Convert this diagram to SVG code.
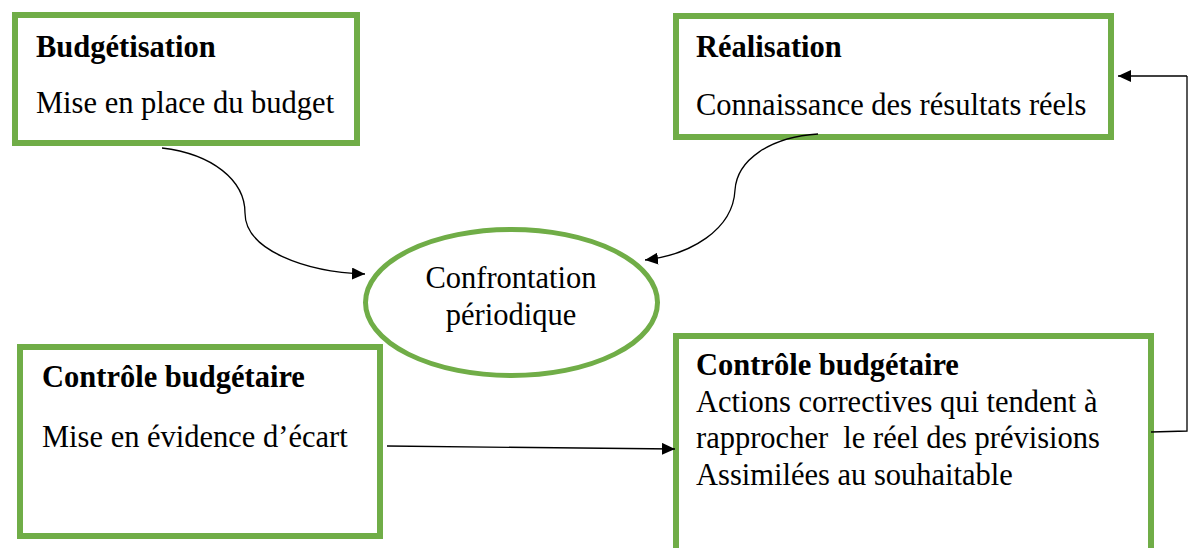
<svg xmlns="http://www.w3.org/2000/svg" width="1188" height="548" viewBox="0 0 1188 548">
  <style>
    .box { fill: #ffffff; stroke: #70AD47; stroke-width: 6; }
    .oval { fill: #ffffff; stroke: #70AD47; stroke-width: 5; }
    .t { font-family: "Liberation Serif", "Times New Roman", serif; font-size: 30.5px; fill: #000000; white-space: pre; }
    .b { font-weight: bold; }
    .mid { text-anchor: middle; }
    .link { fill: none; stroke: #000000; stroke-width: 1.3; marker-end: url(#head); }
    .plain { fill: none; stroke: #000000; stroke-width: 1.3; }
  </style>
  <defs>
    <marker id="head" markerUnits="userSpaceOnUse" markerWidth="14" markerHeight="12" refX="13" refY="6" orient="auto">
      <path d="M0,0 L13,6 L0,12 Z" fill="#000000"/>
    </marker>
  </defs>
  <rect width="1188" height="548" fill="#ffffff"/>

  <g id="budgetisation">
    <rect class="box" x="15" y="15" width="342" height="128"/>
    <text class="t b" x="36" y="57">Budgétisation</text>
    <text class="t" x="36" y="113">Mise en place du budget</text>
  </g>

  <g id="realisation">
    <rect class="box" x="676" y="16" width="435" height="121"/>
    <text class="t b" x="696" y="57">Réalisation</text>
    <text class="t" x="696" y="115">Connaissance des résultats réels</text>
  </g>

  <g id="confrontation">
    <ellipse class="oval" cx="511.5" cy="302.5" rx="146" ry="73"/>
    <text class="t mid" x="511" y="288">Confrontation</text>
    <text class="t mid" x="511" y="325">périodique</text>
  </g>

  <g id="controle-ecart">
    <rect class="box" x="20" y="347" width="360" height="189"/>
    <text class="t b" x="42" y="387">Contrôle budgétaire</text>
    <text class="t" x="42" y="447">Mise en évidence d’écart</text>
  </g>

  <g id="controle-actions">
    <rect class="box" x="676" y="336" width="475" height="240"/>
    <text class="t b" x="696" y="375">Contrôle budgétaire</text>
    <text class="t" x="696" y="412">Actions correctives qui tendent à</text>
    <text class="t" x="696" y="448">rapprocher  le réel des prévisions</text>
    <text class="t" x="696" y="485">Assimilées au souhaitable</text>
  </g>

  <g id="connectors">
    <path class="link" d="M162,148 C212,154 245,180 245,213 C245,250 305,272 365,274"/>
    <path class="link" d="M818,134 C770,137 737,160 735,190 C733,230 690,255 645,260"/>
    <path class="link" d="M387,446 L675,449"/>
    <path class="plain" d="M1151,432 L1187,431 L1187,76"/>
    <path class="link" d="M1187,76 L1118,76"/>
  </g>
</svg>
